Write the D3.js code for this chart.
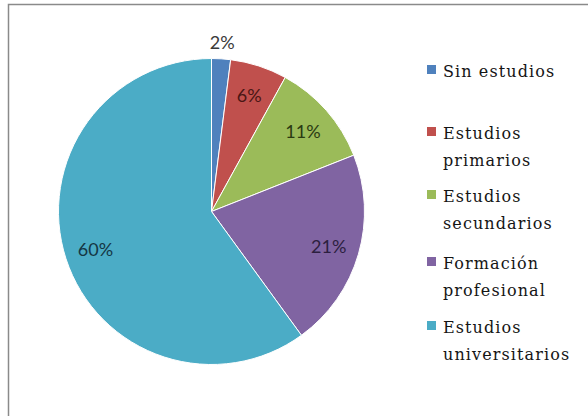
<!DOCTYPE html>
<html>
<head>
<meta charset="utf-8">
<script src="https://cdn.jsdelivr.net/npm/d3@7/dist/d3.min.js"></script>
<style>
  html, body { margin: 0; padding: 0; background: #fff; }
  svg { display: block; }
</style>
</head>
<body>
<svg id="chart" width="588" height="416"></svg>
<script>
// Nivel de estudios
const categories = ["Sin estudios", "Estudios primarios", "Estudios secundarios", "Formación profesional", "Estudios universitarios"];
const legendLines = [["Sin estudios"], ["Estudios", "primarios"], ["Estudios", "secundarios"], ["Formación", "profesional"], ["Estudios", "universitarios"]];
const values = [2, 6, 11, 21, 60];
const colors = ["#4F81BD", "#C0504D", "#9BBB59", "#8064A2", "#4BACC6"];
const labelColors = ["#3a3a3a", "#4a1614", "#2a3a12", "#2c1f3f", "#153644"];

const svg = d3.select("#chart");

// chart area frame (top and left edges visible)
svg.append("rect")
  .attr("x", 8.5).attr("y", 4.5)
  .attr("width", 600).attr("height", 430)
  .attr("fill", "#fff")
  .attr("stroke", "#8a8a8a")
  .attr("stroke-width", 1.5);

const cx = 211.5, cy = 211.5, r = 153;
const g = svg.append("g").attr("transform", `translate(${cx},${cy})`);

const pie = d3.pie().sort(null).value(d => d)(values);
const arc = d3.arc().innerRadius(0).outerRadius(r);
const labelArc = d3.arc().innerRadius(122).outerRadius(122);
const outerLabelArc = d3.arc().innerRadius(170).outerRadius(170);

g.selectAll("path.slice")
  .data(pie)
  .join("path")
  .attr("class", "slice")
  .attr("d", arc)
  .attr("fill", (d, i) => colors[i])
  .attr("stroke", "#fff")
  .attr("stroke-width", 1);

g.selectAll("text.pct")
  .data(pie)
  .join("text")
  .attr("class", "pct")
  .attr("transform", (d, i) => {
    const p = (i === 0 ? outerLabelArc : labelArc).centroid(d);
    return `translate(${p[0]},${p[1]})`;
  })
  .attr("text-anchor", "middle")
  .attr("dominant-baseline", "central")
  .attr("font-family", "Lato, 'Open Sans', sans-serif")
  .attr("font-size", 18)
  .attr("fill", (d, i) => labelColors[i])
  .text(d => d.data + "%");

// legend
const legendY = [71, 133, 196, 263, 327];
const lg = svg.append("g");
legendLines.forEach((lines, i) => {
  lg.append("rect")
    .attr("x", 427).attr("y", legendY[i] - 6)
    .attr("width", 9).attr("height", 9)
    .attr("fill", colors[i]);
  lines.forEach((t, j) => {
    lg.append("text")
      .attr("x", 443)
      .attr("y", legendY[i] + j * 27)
      .attr("dominant-baseline", "central")
      .attr("font-family", "'DejaVu Serif', serif")
      .attr("font-size", 16)
      .attr("letter-spacing", 1.1)
      .attr("fill", "#151515")
      .text(t);
  });
});
</script>
</body>
</html>
